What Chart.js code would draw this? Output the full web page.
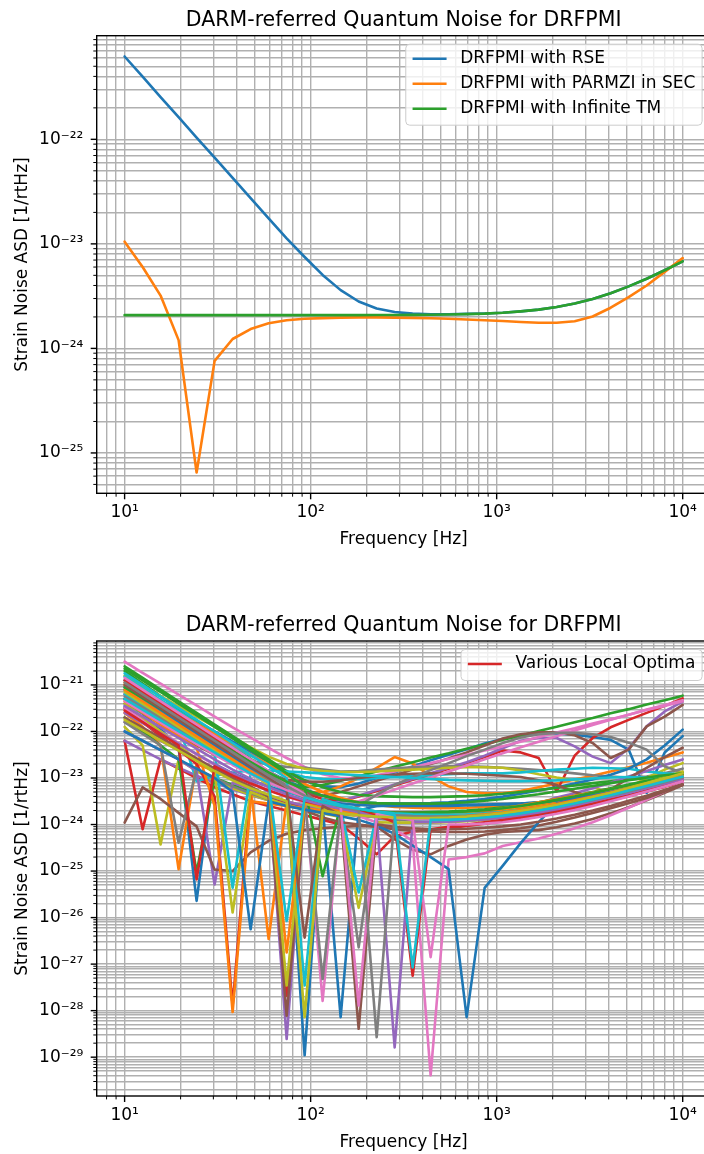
<!DOCTYPE html>
<html>
<head>
<meta charset="utf-8">
<title>DARM-referred Quantum Noise for DRFPMI</title>
<script src="https://cdn.jsdelivr.net/npm/chart.js@4.4.1/dist/chart.umd.min.js"></script>
<style>
  html, body { margin: 0; padding: 0; background: #fff; }
  #page { position: relative; width: 704px; height: 1154px; overflow: hidden; }
  canvas { position: absolute; left: 0; }
</style>
</head>
<body>
<div id="page">
  <canvas id="rseChart" width="720" height="577" style="top:0"></canvas>
  <canvas id="optChart" width="720" height="577" style="top:577px"></canvas>
</div>
<script>
Chart.defaults.font.family = "'DejaVu Sans', sans-serif";
Chart.defaults.color = '#000';

// frequency grid [Hz]
const freqs = [10, 12.5, 15.61, 19.51, 24.38, 30.47, 38.08, 47.58,
  59.46, 74.3, 92.84, 116.0, 145.0, 181.2, 226.4, 282.9,
  353.5, 441.7, 551.9, 689.7, 861.8, 1077, 1346, 1682,
  2101, 2626, 3281, 4100, 5123, 6401, 8000, 10000];

// top panel, strain ASD [1/rtHz]
const rseASD = [6.2e-22, 3.97e-22, 2.54e-22, 1.63e-22, 1.04e-22, 6.68e-23, 4.28e-23, 2.74e-23,
  1.75e-23, 1.13e-23, 7.49e-24, 5.05e-24, 3.61e-24, 2.81e-24, 2.41e-24, 2.23e-24,
  2.15e-24, 2.12e-24, 2.12e-24, 2.14e-24, 2.16e-24, 2.19e-24, 2.26e-24, 2.35e-24,
  2.49e-24, 2.69e-24, 2.97e-24, 3.37e-24, 3.92e-24, 4.64e-24, 5.59e-24, 6.81e-24];
const parmziASD = [1.05e-23, 6.0e-24, 3.2e-24, 1.2e-24, 6.5e-26, 7.6e-25, 1.23e-24, 1.53e-24,
  1.74e-24, 1.86e-24, 1.92e-24, 1.95e-24, 1.97e-24, 1.98e-24, 1.98e-24, 1.97e-24,
  1.96e-24, 1.94e-24, 1.92e-24, 1.89e-24, 1.86e-24, 1.83e-24, 1.79e-24, 1.76e-24,
  1.76e-24, 1.82e-24, 2.02e-24, 2.45e-24, 3.1e-24, 4.0e-24, 5.4e-24, 7.3e-24];
const infTmASD = [2.08e-24, 2.08e-24, 2.08e-24, 2.08e-24, 2.08e-24, 2.08e-24, 2.08e-24, 2.08e-24,
  2.08e-24, 2.08e-24, 2.08e-24, 2.08e-24, 2.08e-24, 2.08e-24, 2.085e-24, 2.088e-24,
  2.093e-24, 2.1e-24, 2.11e-24, 2.13e-24, 2.15e-24, 2.19e-24, 2.26e-24, 2.35e-24,
  2.49e-24, 2.69e-24, 2.97e-24, 3.37e-24, 3.92e-24, 4.64e-24, 5.59e-24, 6.81e-24];
const topLabels = ['DRFPMI with RSE', 'DRFPMI with PARMZI in SEC', 'DRFPMI with Infinite TM'];

// bottom panel, log10 of strain ASD for each local optimum
const opt01 = [-20.9, -21.12, -21.34, -21.56, -21.78, -22.0, -22.22, -22.44,
  -22.66, -22.88, -23.06, -23.18, -23.2, -23.12, -23.0, -22.88,
  -22.75, -22.62, -22.5, -22.38, -22.26, -22.16, -22.08, -22.04,
  -22.04, -22.07, -22.12, -22.18, -22.39, -23.32, -22.45, -22.1];
const opt02 = [-21.0, -21.24, -21.48, -21.72, -21.96, -22.2, -22.44, -22.68,
  -22.9, -23.1, -23.3, -23.3, -23.18, -23.0, -22.78, -22.55,
  -22.69, -22.96, -23.18, -23.3, -23.33, -23.33, -23.28, -23.2,
  -23.12, -23.03, -22.95, -22.86, -22.77, -22.67, -22.56, -22.45];
const opt03 = [-20.7, -20.97, -21.24, -21.51, -21.78, -22.05, -22.32, -22.59,
  -22.86, -23.08, -23.2, -23.15, -23.06, -22.96, -22.86, -22.76,
  -22.66, -22.56, -22.47, -22.37, -22.28, -22.18, -22.09, -21.99,
  -21.9, -21.8, -21.71, -21.61, -21.52, -21.42, -21.33, -21.23];
const opt04 = [-21.2, -21.42, -21.64, -21.86, -22.08, -22.3, -22.52, -22.74,
  -22.96, -23.15, -23.32, -23.45, -23.5, -23.4, -23.28, -23.16,
  -23.04, -22.92, -22.8, -22.68, -22.55, -22.41, -22.45, -22.57,
  -23.29, -22.52, -22.14, -21.91, -21.75, -21.6, -21.45, -21.29];
const opt05 = [-21.8, -22.0, -22.2, -22.4, -22.6, -22.8, -23.0, -23.2,
  -23.38, -23.52, -23.6, -23.58, -23.5, -23.38, -23.26, -23.14,
  -23.02, -22.9, -22.78, -22.66, -22.52, -22.36, -22.2, -22.14,
  -22.14, -22.32, -22.54, -22.68, -22.36, -21.89, -21.57, -21.36];
const opt06 = [-21.4, -21.6, -21.8, -22.0, -22.2, -22.4, -22.6, -22.8,
  -23.0, -23.18, -23.32, -23.38, -23.3, -23.18, -23.06, -22.94,
  -22.82, -22.7, -22.58, -22.45, -22.3, -22.15, -22.06, -22.02,
  -22.02, -22.08, -22.25, -22.57, -22.39, -21.89, -21.68, -21.43];
const opt07 = [-20.5, -20.74, -20.97, -21.21, -21.44, -21.68, -21.91, -22.13,
  -22.35, -22.57, -22.76, -22.92, -23.0, -23.0, -22.94, -22.86,
  -22.77, -22.68, -22.59, -22.5, -22.41, -22.32, -22.22, -22.12,
  -22.02, -21.93, -21.83, -21.74, -21.64, -21.54, -21.45, -21.35];
const opt08 = [-21.3, -21.5, -21.7, -21.9, -22.1, -22.3, -22.48, -22.62,
  -22.72, -22.76, -22.78, -22.82, -22.86, -22.85, -22.82, -22.79,
  -22.77, -22.76, -22.75, -22.75, -22.76, -22.78, -22.8, -22.83,
  -22.86, -22.9, -22.94, -22.97, -22.99, -22.97, -22.9, -22.8];
const opt09 = [-20.8, -21.02, -21.24, -21.46, -21.68, -21.9, -22.12, -22.34,
  -22.54, -22.7, -22.8, -22.85, -22.87, -22.87, -22.86, -22.84,
  -22.82, -22.8, -22.78, -22.77, -22.77, -22.78, -22.84, -22.92,
  -22.99, -23.05, -23.18, -23.36, -23.2, -23.0, -22.82, -22.68];
const opt10 = [-20.82, -21.07, -21.32, -21.57, -21.82, -22.07, -22.3, -22.52,
  -22.72, -22.88, -22.98, -23.02, -23.03, -23.02, -23.0, -22.98,
  -22.96, -22.94, -22.92, -22.9, -22.9, -22.9, -22.88, -22.85,
  -22.82, -22.8, -22.78, -22.79, -22.8, -22.86, -22.9, -22.92];
const opt11 = [-21.1, -21.32, -21.54, -21.76, -21.98, -22.2, -22.42, -22.64,
  -22.86, -23.06, -23.24, -23.38, -23.47, -23.52, -23.54, -23.55,
  -23.55, -23.54, -23.52, -23.49, -23.45, -23.4, -23.34, -23.27,
  -23.2, -23.12, -23.03, -22.93, -22.8, -22.6, -22.3, -21.96];
const opt12 = [-20.95, -21.17, -21.39, -21.61, -21.83, -22.05, -22.27, -22.49,
  -22.71, -22.93, -23.13, -23.3, -23.43, -23.52, -23.58, -23.62,
  -23.64, -23.65, -23.65, -23.64, -23.62, -23.6, -23.57, -23.53,
  -23.48, -23.42, -23.36, -23.3, -23.24, -23.18, -23.12, -23.05];
const opt13 = [-20.6, -20.85, -21.1, -21.35, -21.6, -21.85, -22.1, -22.35,
  -22.6, -22.85, -23.05, -23.2, -23.3, -23.36, -23.39, -23.4,
  -23.41, -23.41, -23.4, -23.39, -23.37, -23.34, -23.3, -23.26,
  -23.21, -23.16, -23.11, -23.07, -23.03, -23.0, -22.97, -22.95];
const opt14 = [-22.2, -24.1, -22.6, -22.8, -23.0, -23.2, -23.35, -23.5,
  -23.6, -23.7, -23.8, -23.9, -24.0, -24.3, -24.64, -24.25,
  -24.15, -24.12, -24.08, -24.03, -23.98, -23.92, -23.86, -23.8,
  -23.73, -23.65, -23.57, -23.48, -23.39, -23.29, -23.19, -23.08];
const opt15 = [-22.2, -22.4, -22.6, -22.78, -22.95, -23.1, -23.24, -23.37,
  -23.48, -23.58, -23.66, -23.72, -23.77, -23.8, -23.82, -23.83,
  -23.83, -23.82, -23.8, -23.77, -23.73, -23.68, -23.62, -23.55,
  -23.42, -23.33, -23.22, -23.1, -22.97, -22.85, -22.72, -22.6];
const opt16 = [-21.5, -21.7, -21.9, -22.1, -22.3, -22.5, -22.68, -22.84,
  -22.96, -23.04, -23.08, -23.08, -23.05, -23.0, -22.96, -22.93,
  -22.91, -22.9, -22.9, -22.91, -22.93, -22.95, -22.98, -23.05,
  -23.15, -23.3, -23.42, -23.25, -23.0, -22.78, -22.55, -22.35];
const opt17 = [-21.2, -21.42, -21.64, -21.86, -22.08, -22.3, -22.52, -22.74,
  -22.96, -23.18, -23.4, -23.58, -23.6, -23.5, -23.38, -23.25,
  -23.12, -22.99, -22.86, -22.73, -22.6, -22.47, -22.34, -22.22,
  -22.1, -21.98, -21.86, -21.75, -21.64, -21.53, -21.43, -21.33];
const opt18 = [-21.1, -21.33, -21.56, -21.79, -22.02, -22.25, -22.48, -22.71,
  -22.92, -23.12, -23.32, -23.58, -23.78, -23.6, -23.36, -23.15,
  -22.98, -22.83, -22.68, -22.53, -22.39, -22.25, -22.13, -22.06,
  -22.03, -22.03, -22.06, -22.12, -22.24, -22.39, -22.75, -22.89];
const opt19 = [-21.9, -22.3, -24.43, -22.6, -22.85, -23.05, -23.22, -23.36,
  -23.48, -23.58, -23.66, -23.73, -23.78, -23.82, -23.84, -23.85,
  -23.85, -23.84, -23.82, -23.79, -23.75, -23.7, -23.64, -23.57,
  -23.5, -23.42, -23.34, -23.25, -23.16, -23.07, -22.98, -22.88];
const opt20 = [-21.46, -21.6, -21.73, -21.86, -23.07, -22.95, -22.88, -22.84,
  -22.84, -22.86, -22.88, -22.9, -22.92, -22.94, -22.96, -22.98,
  -23.0, -23.02, -23.04, -23.05, -23.06, -23.07, -23.07, -23.06,
  -23.05, -23.03, -23.01, -22.99, -22.98, -22.99, -23.01, -23.03];
const opt21 = [-21.3, -21.62, -21.95, -22.35, -25.64, -22.7, -22.9, -23.05,
  -23.18, -23.3, -23.4, -23.6, -28.14, -23.7, -23.6, -23.58,
  -23.57, -23.57, -23.57, -23.57, -23.57, -23.56, -23.55, -23.53,
  -23.5, -23.45, -23.4, -23.33, -23.25, -23.16, -23.06, -22.95];
const opt22 = [-21.6, -21.9, -22.3, -24.96, -22.7, -22.85, -23.0, -23.2,
  -26.46, -23.5, -23.62, -23.7, -23.76, -23.8, -23.82, -23.83,
  -23.83, -23.82, -23.8, -23.78, -23.75, -23.71, -23.66, -23.6,
  -23.53, -23.46, -23.38, -23.3, -23.22, -23.14, -23.06, -22.98];
const opt23 = [-21.7, -22.0, -22.3, -22.6, -25.03, -23.0, -23.15, -23.3,
  -23.42, -23.52, -23.6, -23.66, -23.7, -23.72, -23.73, -23.74,
  -23.74, -23.73, -23.72, -23.7, -23.67, -23.63, -23.58, -23.52,
  -23.45, -23.38, -23.3, -23.22, -23.14, -23.06, -22.98, -22.9];
const opt24 = [-21.5, -21.8, -22.1, -22.4, -22.7, -23.4, -27.89, -23.3,
  -23.45, -23.55, -23.62, -23.68, -23.72, -23.72, -23.72, -23.74,
  -23.75, -23.76, -23.76, -23.76, -23.75, -23.74, -23.72, -23.68,
  -23.63, -23.57, -23.5, -23.42, -23.34, -23.25, -23.15, -23.05];
const opt25 = [-22.0, -22.2, -22.4, -22.6, -22.85, -25.29, -23.1, -23.25,
  -23.38, -23.5, -23.6, -23.68, -23.75, -23.8, -23.84, -23.87,
  -23.89, -23.9, -23.9, -23.89, -23.87, -23.84, -23.8, -23.75,
  -23.69, -23.62, -23.54, -23.45, -23.36, -23.26, -23.16, -23.06];
const opt26 = [-23.96, -23.2, -23.45, -23.75, -24.04, -24.97, -25.0, -24.6,
  -24.35, -24.2, -24.12, -24.08, -24.05, -24.03, -24.04, -24.32,
  -24.54, -24.64, -24.46, -24.32, -24.22, -24.16, -24.14, -24.12,
  -24.06, -23.98, -23.88, -23.76, -23.63, -23.48, -23.32, -23.15];
const opt27 = [-21.5, -21.75, -22.0, -22.25, -22.5, -22.72, -22.92, -23.1,
  -23.26, -23.4, -23.52, -23.62, -23.72, -23.82, -23.95, -24.1,
  -24.35, -29.39, -24.75, -24.7, -24.62, -24.46, -24.38, -24.3,
  -24.2, -24.08, -23.95, -23.8, -23.64, -23.47, -23.29, -23.1];
const opt28 = [-21.8, -22.05, -22.3, -24.39, -22.8, -23.0, -23.18, -23.33,
  -23.46, -23.57, -23.66, -23.74, -23.8, -26.64, -23.88, -23.9,
  -23.91, -23.91, -23.9, -23.88, -23.85, -23.81, -23.76, -23.7,
  -23.63, -23.55, -23.46, -23.37, -23.28, -23.19, -23.1, -23.0];
const opt29 = [-21.4, -21.7, -22.0, -22.3, -22.6, -22.9, -25.89, -23.3,
  -23.45, -23.58, -23.68, -23.76, -23.84, -25.79, -23.95, -23.96,
  -23.96, -23.96, -23.95, -23.93, -23.9, -23.85, -23.78, -23.7,
  -23.61, -23.52, -23.42, -23.32, -23.21, -23.1, -22.98, -22.86];
const opt30 = [-21.2, -21.45, -21.7, -21.95, -22.2, -22.45, -25.36, -22.9,
  -23.1, -23.28, -23.42, -23.54, -23.64, -25.46, -23.8, -23.85,
  -23.88, -23.9, -23.9, -23.89, -23.87, -23.84, -23.8, -23.74,
  -23.67, -23.59, -23.5, -23.41, -23.32, -23.22, -23.12, -23.02];
const opt31 = [-21.05, -21.3, -21.55, -21.8, -22.05, -22.3, -22.55, -22.8,
  -23.05, -23.3, -28.96, -23.5, -23.55, -23.58, -23.6, -23.6,
  -23.6, -23.6, -23.6, -23.59, -23.58, -23.57, -23.55, -23.52,
  -23.48, -23.43, -23.37, -23.3, -23.22, -23.13, -23.03, -22.92];
const opt32 = [-21.35, -21.6, -21.85, -22.1, -22.35, -23.6, -28.03, -23.5,
  -23.55, -23.6, -23.65, -23.7, -23.74, -23.77, -23.79, -23.8,
  -23.8, -23.79, -23.77, -23.74, -23.7, -23.65, -23.59, -23.52,
  -23.45, -23.38, -23.31, -23.24, -23.17, -23.1, -23.03, -22.96];
const opt33 = [-20.65, -20.9, -21.15, -21.4, -21.65, -21.9, -22.15, -22.4,
  -22.65, -22.9, -23.2, -25.11, -23.6, -23.68, -23.72, -23.74,
  -23.75, -23.75, -23.74, -23.72, -23.69, -23.65, -23.6, -23.54,
  -23.47, -23.4, -23.32, -23.24, -23.16, -23.08, -23.0, -22.92];
const opt34 = [-20.9, -21.15, -21.4, -21.65, -21.9, -22.15, -22.4, -22.65,
  -23.0, -27.68, -23.45, -23.6, -23.7, -23.76, -23.8, -23.82,
  -23.83, -23.83, -23.82, -23.8, -23.77, -23.73, -23.68, -23.62,
  -23.55, -23.47, -23.39, -23.31, -23.23, -23.15, -23.07, -23.0];
const opt35 = [-21.6, -21.82, -22.04, -22.26, -22.48, -22.7, -22.9, -23.08,
  -23.3, -28.61, -23.55, -23.65, -23.72, -23.78, -23.82, -23.85,
  -23.87, -23.88, -23.88, -23.87, -23.85, -23.82, -23.78, -23.72,
  -23.65, -23.57, -23.48, -23.39, -23.3, -23.2, -23.1, -23.0];
const opt36 = [-21.7, -21.92, -22.14, -22.36, -22.58, -22.8, -23.0, -23.18,
  -23.4, -28.11, -23.7, -23.85, -23.95, -24.0, -24.05, -24.1,
  -24.13, -24.15, -24.16, -24.16, -24.15, -24.12, -24.08, -24.02,
  -23.94, -23.85, -23.75, -23.65, -23.54, -23.43, -23.29, -23.15];
const opt37 = [-20.85, -21.1, -21.35, -21.6, -21.85, -22.1, -22.35, -22.6,
  -22.85, -23.1, -23.35, -27.79, -23.7, -23.78, -23.83, -23.86,
  -23.88, -23.89, -23.89, -23.88, -23.86, -23.83, -23.79, -23.74,
  -23.67, -23.59, -23.5, -23.41, -23.32, -23.22, -23.12, -23.02];
const opt38 = [-21.25, -21.48, -21.71, -21.94, -22.17, -22.4, -22.62, -22.84,
  -23.05, -23.25, -23.42, -27.32, -23.68, -23.75, -23.8, -23.83,
  -23.85, -23.86, -23.86, -23.85, -23.83, -23.8, -23.76, -23.71,
  -23.64, -23.56, -23.47, -23.38, -23.29, -23.2, -23.1, -23.0];
const opt39 = [-21.15, -21.4, -21.65, -21.9, -22.15, -22.4, -22.65, -22.9,
  -23.15, -27.46, -23.55, -23.65, -23.72, -23.77, -23.8, -23.82,
  -23.83, -23.83, -23.82, -23.8, -23.77, -23.73, -23.68, -23.62,
  -23.55, -23.47, -23.39, -23.3, -23.21, -23.11, -23.0, -22.88];
const opt40 = [-20.75, -21.0, -21.25, -21.5, -21.75, -22.0, -22.25, -22.5,
  -22.75, -23.0, -27.46, -23.45, -23.58, -23.66, -23.72, -23.76,
  -23.78, -23.79, -23.79, -23.78, -23.76, -23.73, -23.69, -23.64,
  -23.58, -23.51, -23.43, -23.35, -23.26, -23.17, -23.07, -22.97];
const opt41 = [-22.0, -22.2, -22.4, -22.6, -22.8, -23.0, -23.3, -26.25,
  -23.5, -23.6, -23.68, -23.75, -23.82, -23.9, -24.02, -24.2,
  -24.45, -24.7, -24.96, -28.14, -25.36, -24.89, -24.4, -23.95,
  -23.55, -23.45, -23.38, -23.3, -23.22, -23.14, -23.05, -22.95];
const opt42 = [-21.1, -21.35, -21.6, -21.85, -22.1, -22.35, -22.6, -22.85,
  -23.1, -26.75, -23.5, -23.62, -23.7, -23.76, -23.8, -23.83,
  -23.84, -23.84, -23.83, -23.81, -23.78, -23.74, -23.69, -23.63,
  -23.56, -23.48, -23.4, -23.31, -23.22, -23.13, -23.04, -22.95];
const opt43 = [-21.05, -21.28, -21.51, -21.74, -21.97, -22.2, -22.43, -22.66,
  -22.88, -23.08, -23.25, -23.38, -23.47, -23.52, -23.54, -23.55,
  -23.55, -23.55, -23.54, -23.52, -23.49, -23.45, -23.4, -23.35,
  -23.29, -23.23, -23.17, -23.11, -23.05, -22.99, -22.94, -22.9];
const opt44 = [-21.55, -21.8, -22.05, -22.3, -25.18, -22.75, -22.95, -23.12,
  -23.27, -23.4, -23.5, -23.58, -23.65, -23.72, -23.8, -23.95,
  -27.25, -24.1, -24.05, -24.0, -23.95, -23.9, -23.84, -23.78,
  -23.71, -23.63, -23.55, -23.46, -23.37, -23.27, -23.17, -23.06];
const opt45 = [-21.45, -21.68, -21.91, -22.14, -22.37, -22.6, -22.82, -23.02,
  -23.2, -23.35, -23.48, -23.58, -23.66, -23.73, -23.85, -28.79,
  -23.95, -23.95, -23.94, -23.92, -23.89, -23.85, -23.8, -23.74,
  -23.67, -23.59, -23.5, -23.41, -23.32, -23.22, -23.12, -23.02];
const opt46 = [-21.0, -21.25, -21.5, -21.75, -22.0, -22.25, -22.5, -22.75,
  -23.0, -23.25, -26.43, -23.6, -23.8, -28.39, -24.0, -24.05,
  -24.08, -24.1, -24.1, -24.09, -24.07, -24.04, -24.0, -23.94,
  -23.87, -23.79, -23.7, -23.6, -23.49, -23.38, -23.26, -23.13];
const opt47 = [-21.35, -21.58, -21.81, -22.04, -22.27, -22.5, -22.72, -22.92,
  -23.1, -23.26, -23.4, -23.52, -23.62, -27.89, -23.78, -23.84,
  -23.9, -26.85, -24.0, -24.0, -23.98, -23.95, -23.9, -23.84,
  -23.77, -23.69, -23.6, -23.5, -23.4, -23.29, -23.18, -23.07];
const opt48 = [-20.95, -21.2, -21.45, -21.7, -21.95, -22.2, -22.45, -22.7,
  -22.95, -23.18, -23.38, -23.52, -23.62, -23.7, -28.57, -23.8,
  -23.82, -23.83, -23.83, -23.82, -23.8, -23.77, -23.73, -23.68,
  -23.62, -23.55, -23.47, -23.38, -23.29, -23.19, -23.09, -22.99];
const opt49 = [-21.75, -21.97, -22.19, -22.41, -22.63, -22.85, -23.05, -23.22,
  -23.36, -23.5, -28.14, -23.7, -23.76, -23.8, -23.83, -23.85,
  -23.86, -23.86, -23.85, -23.83, -23.8, -23.76, -23.71, -23.65,
  -23.58, -23.5, -23.41, -23.32, -23.22, -23.12, -23.01, -22.9];
const opt50 = [-21.3, -21.53, -21.76, -21.99, -22.22, -22.45, -22.68, -22.9,
  -23.1, -26.07, -23.42, -23.52, -23.6, -23.66, -23.72, -23.8,
  -27.07, -23.9, -23.9, -23.88, -23.85, -23.81, -23.76, -23.7,
  -23.63, -23.55, -23.46, -23.37, -23.27, -23.17, -23.07, -22.97];

const optima = [opt01, opt02, opt03, opt04, opt05, opt06, opt07, opt08, opt09, opt10,
  opt11, opt12, opt13, opt14, opt15, opt16, opt17, opt18, opt19, opt20,
  opt21, opt22, opt23, opt24, opt25, opt26, opt27, opt28, opt29, opt30,
  opt31, opt32, opt33, opt34, opt35, opt36, opt37, opt38, opt39, opt40,
  opt41, opt42, opt43, opt44, opt45, opt46, opt47, opt48, opt49, opt50];
const optLabel = 'Various Local Optima';
const labelledOptimum = 3;

const tab10 = ['#1f77b4', '#ff7f0e', '#2ca02c', '#d62728', '#9467bd',
  '#8c564b', '#e377c2', '#7f7f7f', '#bcbd22', '#17becf'];

const sup = {'-': '\u207b', '0': '\u2070', '1': '\u00b9', '2': '\u00b2', '3': '\u00b3',
  '4': '\u2074', '5': '\u2075', '6': '\u2076', '7': '\u2077', '8': '\u2078', '9': '\u2079'};

function powerLabel(value, index, ticks) {
  if (!ticks[index].major) return '';
  const e = Math.round(Math.log10(value));
  return '10' + String(e).split('').map(c => sup[c]).join('');
}

// major ticks at every decade, minor ones at 2..9
function decadeTicks(scale) {
  const lo = Math.floor(Math.log10(scale.min));
  const hi = Math.ceil(Math.log10(scale.max));
  const ticks = [];
  for (let e = lo; e <= hi; e++) {
    for (let m = 1; m < 10; m++) {
      const v = m * Math.pow(10, e);
      if (v >= scale.min && v <= scale.max) ticks.push({value: v, major: m === 1});
    }
  }
  scale.ticks = ticks;
}

// same 5% margin in log space as matplotlib's autoscale
function paddedLogRange(values) {
  const logs = values.map(v => Math.log10(v));
  const lo = Math.min(...logs), hi = Math.max(...logs);
  const m = 0.05 * (hi - lo);
  return {min: Math.pow(10, lo - m), max: Math.pow(10, hi + m)};
}

const frame = {
  id: 'frame',
  afterDraw(chart, args, opts) {
    const ctx = chart.ctx;
    const a = chart.chartArea;
    const xs = chart.scales.x, ys = chart.scales.y;
    ctx.save();
    ctx.strokeStyle = '#000';
    xs.ticks.forEach(t => {
      const p = xs.getPixelForValue(t.value);
      ctx.lineWidth = t.major ? 1.4 : 1.0;
      ctx.beginPath();
      ctx.moveTo(p, a.bottom);
      ctx.lineTo(p, a.bottom + (t.major ? 6 : 3.4));
      ctx.stroke();
    });
    ys.ticks.forEach(t => {
      const p = ys.getPixelForValue(t.value);
      ctx.lineWidth = t.major ? 1.4 : 1.0;
      ctx.beginPath();
      ctx.moveTo(a.left, p);
      ctx.lineTo(a.left - (t.major ? 6 : 3.4), p);
      ctx.stroke();
    });
    ctx.lineWidth = 1.4;
    ctx.strokeRect(a.left, a.top, a.right - a.left, a.bottom - a.top);

    ctx.fillStyle = '#000';
    ctx.textAlign = 'center';
    ctx.textBaseline = 'alphabetic';
    ctx.font = "20.5px 'DejaVu Sans'";
    ctx.fillText(opts.title, (a.left + a.right) / 2, a.top - 9.7);
    ctx.font = "17px 'DejaVu Sans'";
    ctx.fillText('Frequency [Hz]', (a.left + a.right) / 2, a.bottom + 51);
    ctx.save();
    ctx.translate(26.7, (a.top + a.bottom) / 2);
    ctx.rotate(-Math.PI / 2);
    ctx.fillText('Strain Noise ASD [1/rtHz]', 0, 0);
    ctx.restore();

    // legend box in the upper right corner
    const items = chart.data.datasets.filter(d => d.label).map(d => ({text: d.label, color: d.borderColor}));
    const textW = Math.max(...items.map(it => ctx.measureText(it.text).width));
    const w = 6.8 + 34 + 13.6 + textW + 6.8;
    const h = 25 * items.length + 6;
    const x0 = a.right - 8.5 - w, y0 = a.top + 8.5;
    ctx.beginPath();
    ctx.roundRect(x0, y0, w, h, 4);
    ctx.fillStyle = 'rgba(255,255,255,0.8)';
    ctx.fill();
    ctx.strokeStyle = '#cccccc';
    ctx.lineWidth = 1;
    ctx.stroke();
    ctx.textAlign = 'left';
    ctx.textBaseline = 'middle';
    items.forEach((it, k) => {
      const cy = y0 + 14.5 + 25 * k;
      ctx.strokeStyle = it.color;
      ctx.lineWidth = 2.6;
      ctx.beginPath();
      ctx.moveTo(x0 + 6.8, cy);
      ctx.lineTo(x0 + 40.8, cy);
      ctx.stroke();
      ctx.fillStyle = '#000';
      ctx.fillText(it.text, x0 + 54.4, cy);
    });
    ctx.restore();
  }
};

function makeChart(id, datasets, yRange, padTop, xAxisHeight, title) {
  const xRange = paddedLogRange(freqs);
  const grid = {color: '#b0b0b0', lineWidth: 1.4, drawTicks: false, tickLength: 0};
  return new Chart(document.getElementById(id), {
    type: 'line',
    data: {datasets: datasets},
    options: {
      responsive: false,
      animation: false,
      devicePixelRatio: 1,
      layout: {padding: {top: padTop, right: 9.4, left: 0, bottom: 0}},
      plugins: {
        legend: {display: false},
        title: {display: false},
        tooltip: {enabled: false},
        frame: {title: title}
      },
      elements: {
        point: {radius: 0},
        line: {borderWidth: 2.6, tension: 0, borderJoinStyle: 'round', borderCapStyle: 'round'}
      },
      scales: {
        x: {
          type: 'logarithmic', bounds: 'data', min: xRange.min, max: xRange.max,
          afterBuildTicks: decadeTicks,
          afterFit: s => { s.height = xAxisHeight; },
          grid: grid, border: {display: false},
          ticks: {callback: powerLabel, autoSkip: false, maxRotation: 0, padding: 9, font: {size: 17}, color: '#000'}
        },
        y: {
          type: 'logarithmic', bounds: 'data', min: yRange.min, max: yRange.max,
          afterBuildTicks: decadeTicks,
          afterFit: s => { s.width = 96.7; },
          grid: grid, border: {display: false},
          ticks: {callback: powerLabel, autoSkip: false, padding: 13.4, font: {size: 17}, color: '#000'}
        }
      }
    },
    plugins: [frame]
  });
}

function points(values) {
  return freqs.map((f, i) => ({x: f, y: values[i]}));
}

const topSeries = [rseASD, parmziASD, infTmASD];
const topSets = topSeries.map((s, n) => ({
  label: topLabels[n], data: points(s), borderColor: tab10[n], order: -n, clip: 0
}));
makeChart('rseChart', topSets, paddedLogRange(topSeries.flat()), 35.7, 83.7,
  'DARM-referred Quantum Noise for DRFPMI');

const optValues = optima.map(s => s.map(v => Math.pow(10, v)));
const optSets = optValues.map((s, n) => ({
  label: n === labelledOptimum ? optLabel : '',
  data: points(s), borderColor: tab10[n % 10], order: -n, clip: 0
}));
makeChart('optChart', optSets, paddedLogRange(optValues.flat()), 64, 58,
  'DARM-referred Quantum Noise for DRFPMI');
</script>
</body>
</html>
